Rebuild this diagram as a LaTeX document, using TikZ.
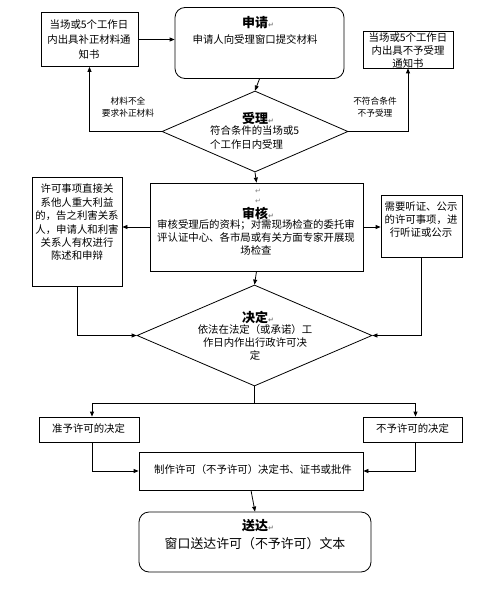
\documentclass[tikz,border=0pt]{standalone}
\usepackage{fontspec}
\setmainfont{Noto Sans CJK SC}
\newfontfamily\symfont{DejaVu Sans}
\usetikzlibrary{shapes.geometric,arrows.meta}
\newcommand{\pmark}{{\symfont\fontsize{7}{7}\selectfont\color{gray}↵}}
\tikzset{
  box/.style={draw=black, line width=0.8pt, rectangle, inner sep=0pt},
  rbox/.style={box, rounded corners=10pt},
  dia/.style={draw=black, line width=0.8pt, diamond, inner sep=0pt},
  body/.style={font=\fontsize{10.4}{13.4}\selectfont, align=center, inner sep=0pt},
  small/.style={font=\fontsize{8.7}{12.5}\selectfont, align=center, inner sep=0pt},
  ttl/.style={font=\fontsize{13}{14}\selectfont\bfseries, inner sep=0pt},
  conn/.style={draw=black, line width=0.8pt, -{Triangle[length=5pt,width=4pt]}},
  line/.style={draw=black, line width=0.8pt}
}
\begin{document}
\begin{tikzpicture}[x=1pt,y=-1pt]
\useasboundingbox (0,0) rectangle (486,591);
\fill[white] (0,0) rectangle (486,591);
% boxes
\node[box, minimum width=97pt, minimum height=54pt] (bl) at (89.5,39.5) {};
\node[rbox, minimum width=169pt, minimum height=71pt] (shen) at (259.5,43) {};
\node[box, minimum width=90pt, minimum height=37pt] (br) at (408,49.5) {};
\node[dia, minimum width=186pt, minimum height=81pt] (shouli) at (255,131.5) {};
\node[box, minimum width=213pt, minimum height=88pt] (shenhe) at (256.5,227) {};
\node[box, minimum width=90pt, minimum height=109pt] (lb) at (77,231.5) {};
\node[box, minimum width=81pt, minimum height=62pt] (rb) at (421.5,226) {};
\node[dia, minimum width=235pt, minimum height=101pt] (jd) at (254.5,335.5) {};
\node[box, minimum width=100pt, minimum height=25pt] (zy) at (89,429.5) {};
\node[box, minimum width=99pt, minimum height=25pt] (by) at (412.5,429.5) {};
\node[box, minimum width=224pt, minimum height=38pt] (zz) at (251,471) {};
\node[rbox, minimum width=232pt, minimum height=60pt] (sd) at (255,542) {};
% texts
\node[body, font=\fontsize{10.4}{15}\selectfont] (tbl) at (89,40) {当场或5个工作日\\内出具补正材料通\\知书};
\node[ttl] (tshen) at (258,23) {申请\pmark};
\node[body] (tshenb) at (255,40) {申请人向受理窗口提交材料};
\node[body, font=\fontsize{10.4}{12.6}\selectfont] (tbr) at (408,50.5) {当场或5个工作日\\内出具不予受理\\通知书};
\node[small] (labl) at (128,107) {材料不全\\要求补正材料};
\node[small] (labr) at (375,107) {不符合条件\\不予受理};
\node[ttl] (tsl) at (258,118) {受理\pmark};
\node[body, align=left, anchor=west] (tslb) at (210,137.5) {符合条件的当场或5\\个工作日内受理};
\node[inner sep=0pt] (pm1) at (258,191) {\pmark};
\node[inner sep=0pt] (pm2) at (258,201) {\pmark};
\node[ttl] (tsh) at (258,213) {审核\pmark};
\node[body, font=\fontsize{10.4}{13}\selectfont] (tshb) at (256,238) {审核受理后的资料；对需现场检查的委托审\\评认证中心、各市局或有关方面专家开展现\\场检查};
\node[body] (tlb) at (77,222.5) {许可事项直接关\\系他人重大利益\\的，告之利害关系\\人，申请人和利害\\关系人有权进行\\陈述和申辩};
\node[body, font=\fontsize{10.4}{13}\selectfont] (trb) at (421,220) {需要听证、公示\\的许可事项，进\\行听证或公示};
\node[ttl] (tjd) at (258,317) {决定\pmark};
\node[body, font=\fontsize{10.4}{12.6}\selectfont] (tjdb) at (255,342.5) {依法在法定（或承诺）工\\作日内作出行政许可决\\定};
\node[body, anchor=west] (tzy) at (52,429) {准予许可的决定};
\node[body, anchor=west] (tby) at (376,429) {不予许可的决定};
\node[body] (tzz) at (253,470) {制作许可（不予许可）决定书、证书或批件};
\node[ttl] (tsd) at (258,526) {送达\pmark};
\node[body, font=\fontsize{12.9}{14}\selectfont] (tsdb) at (255,544) {窗口送达许可（不予许可）文本};
% connectors
\draw[conn] (bl.east) -- (bl.east -| shen.west);
\draw[conn] (shen.south) -- (shouli.north);
\draw[conn] (shouli.west) -| (bl.south);
\draw[conn] (shouli.east) -| (br.south);
\draw[conn] (shouli.south) -- (shenhe.north);
\draw[conn] (shenhe.west) -- (shenhe.west -| lb.east);
\draw[conn] (shenhe.east) -- (shenhe.east -| rb.west);
\draw[conn] (shenhe.south) -- (jd.north);
\draw[conn] (lb.south) |- (jd.west);
\draw[conn] (rb.south) |- (jd.east);
\coordinate (split) at (254.5,403);
\draw[line] (jd.south) -- (split);
\draw[conn] (split) -| ([xshift=3pt]zy.north);
\draw[conn] (split) -| ([xshift=3pt]by.north);
\draw[conn] ([xshift=3pt]zy.south) |- (zz.west);
\draw[conn] ([xshift=3pt]by.south) |- (zz.east);
\draw[conn] (zz.south) -- (sd.north);
\end{tikzpicture}
\end{document}
